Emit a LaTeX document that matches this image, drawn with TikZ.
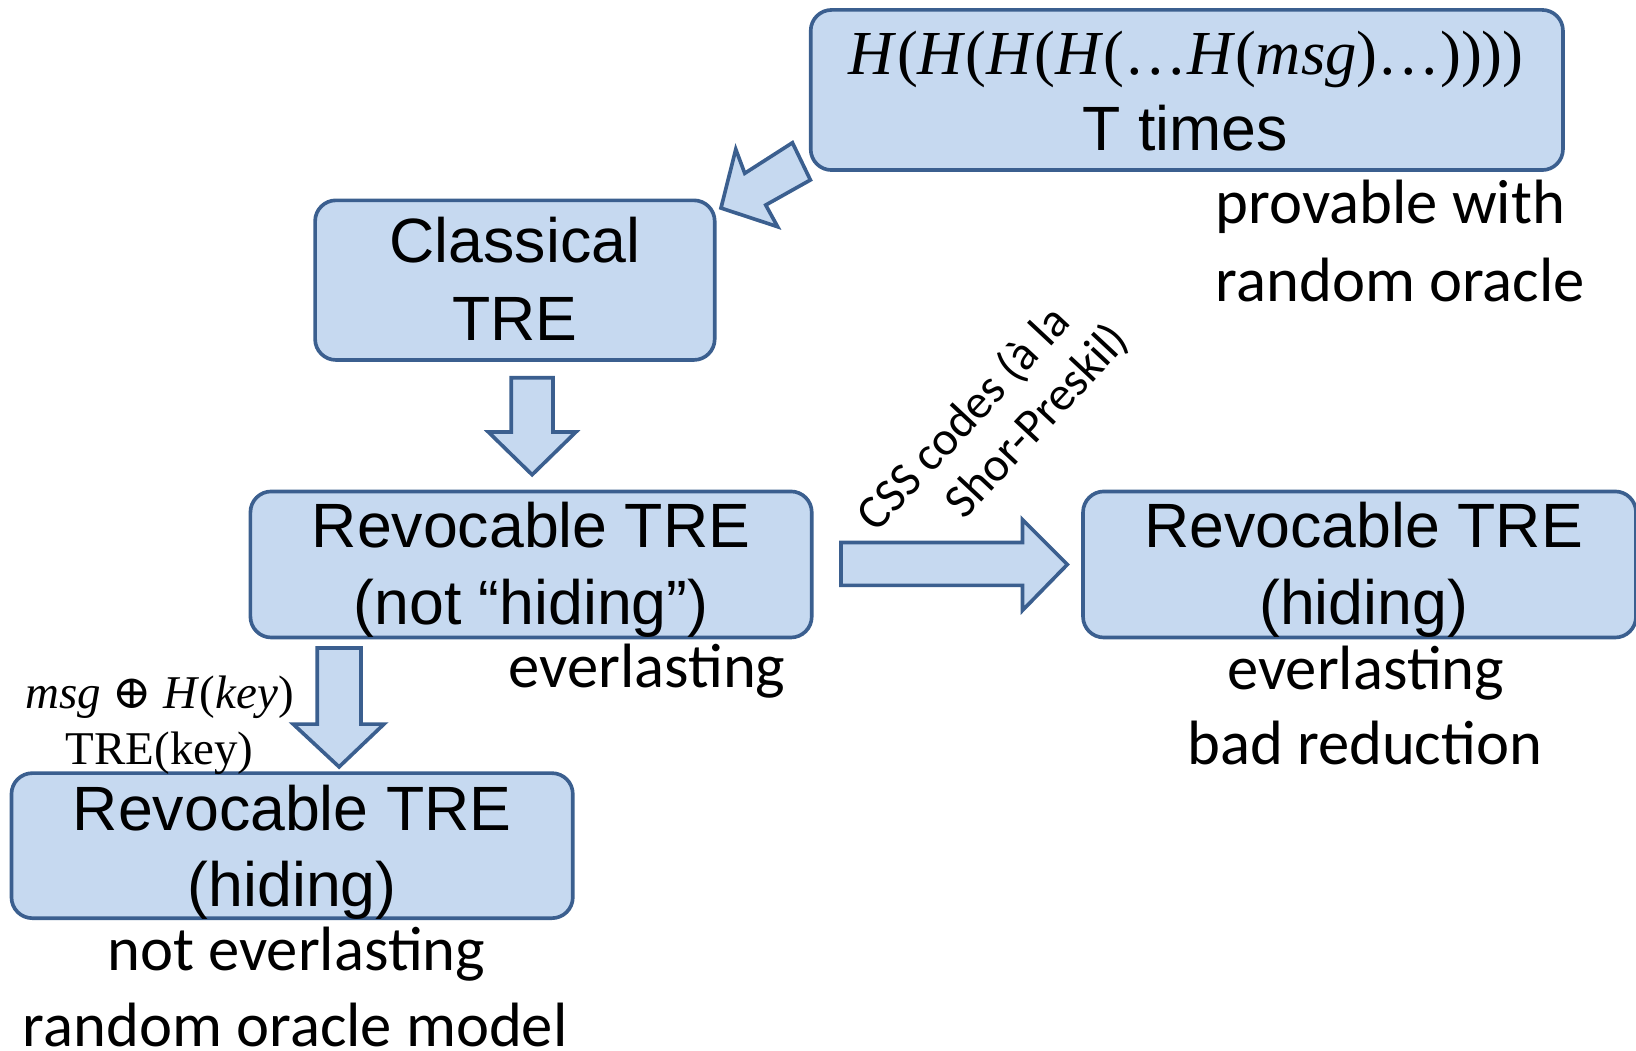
\documentclass[tikz,border=0pt]{standalone}
\usepackage{fontspec}
\setmainfont{Liberation Sans}
\newfontfamily\calfont{Carlito}
\newfontfamily\tnrfont{Liberation Serif}
\newfontfamily\symfont{DejaVu Serif}
\definecolor{boxfill}{HTML}{C6D9F0}
\definecolor{boxline}{HTML}{3B5F8F}
\tikzset{
  box/.style={draw=boxline, fill=boxfill, line width=3.5pt, rounded corners=20pt, inner sep=0pt, outer sep=0pt},
  blockarrow/.style={draw=boxline, fill=boxfill, line width=3.5pt, line join=miter},
  boxtxt/.style={font=\fontsize{60}{72}\selectfont, anchor=base, inner sep=0pt},
  note/.style={font=\calfont\fontsize{60}{72}\selectfont, anchor=base, inner sep=0pt},
  formula/.style={font=\tnrfont\fontsize{60}{72}\selectfont, anchor=base, inner sep=0pt},
  smallformula/.style={font=\tnrfont\fontsize{45}{54}\selectfont, anchor=base, inner sep=0pt},
  rotnote/.style={font=\calfont\fontsize{46}{53}\selectfont, inner sep=0pt, rotate=47}
}
\begin{document}
\begin{tikzpicture}[x=1pt,y=-1pt]
\useasboundingbox (0,0) rectangle (1568,1007);
% boxes
\node[box, minimum width=721pt, minimum height=153.5pt] (A) at (1137.5,86.25) {};
\node[box, minimum width=383pt, minimum height=153pt] (B) at (493.5,268.5) {};
\node[box, minimum width=538pt, minimum height=140pt] (C) at (509,541) {};
\node[box, minimum width=530pt, minimum height=140pt] (D) at (1303,541) {};
\node[box, minimum width=538pt, minimum height=139pt] (E) at (280,810.5) {};
% block arrows
\draw[blockarrow] (691,199.4) -- (705.2,143.1) -- (713.8,166.1) -- (759.5,136.8) -- (776.7,172.5) -- (733.9,196.5) -- (745.3,217.3) -- cycle;
\draw[blockarrow] (490,362) -- (530,362) -- (530,414) -- (552,414) -- (510,455) -- (468,414) -- (490,414) -- cycle;
\draw[blockarrow] (304,621) -- (346,621) -- (346,694) -- (368,694) -- (325,735) -- (281,694) -- (304,694) -- cycle;
\draw[blockarrow] (806,520) -- (980,520) -- (980,498) -- (1023,541) -- (980,585) -- (980,561) -- (806,561) -- cycle;
% box A text
\node[formula] (a1) at (1137,71) {\textit{H}(\textit{H}(\textit{H}(\textit{H}(…\textit{H}(\textit{msg})…))))};
\node[boxtxt] (a2) at (1136,144) {T times};
\node[note, anchor=base west] (a3) at (1165,214) {provable with};
\node[note, anchor=base west] (a4) at (1165,289) {random oracle};
% box B text
\node[boxtxt] (b1) at (493.5,252) {Classical};
\node[boxtxt] (b2) at (493.5,326) {TRE};
% box C text
\node[boxtxt] (c1) at (509,525) {Revocable TRE};
\node[boxtxt] (c2) at (509,599) {(not “hiding”)};
\node[note] (c3) at (620,659) {everlasting};
% box D text
\node[boxtxt] (d1) at (1307,525) {Revocable TRE};
\node[boxtxt] (d2) at (1307,599) {(hiding)};
\node[note] (d3) at (1309,661) {everlasting};
\node[note] (d4) at (1308,733) {bad reduction};
% box E text
\node[boxtxt] (e1) at (280,795.5) {Revocable TRE};
\node[boxtxt] (e2) at (280,869) {(hiding)};
\node[note] (e3) at (284,930) {not everlasting};
\node[note] (e4) at (283,1003) {random oracle model};
% arrow labels
\node[smallformula] (l1) at (153,679) {\textit{msg} {\symfont ⊕} \textit{H}(\textit{key})};
\node[smallformula] (l2) at (153,733) {TRE(key)};
\node[rotnote] (css1) at (924,401.5) {CSS codes (à la};
\node[rotnote] (css2) at (994,404) {Shor-Preskil)};
\end{tikzpicture}
\end{document}
